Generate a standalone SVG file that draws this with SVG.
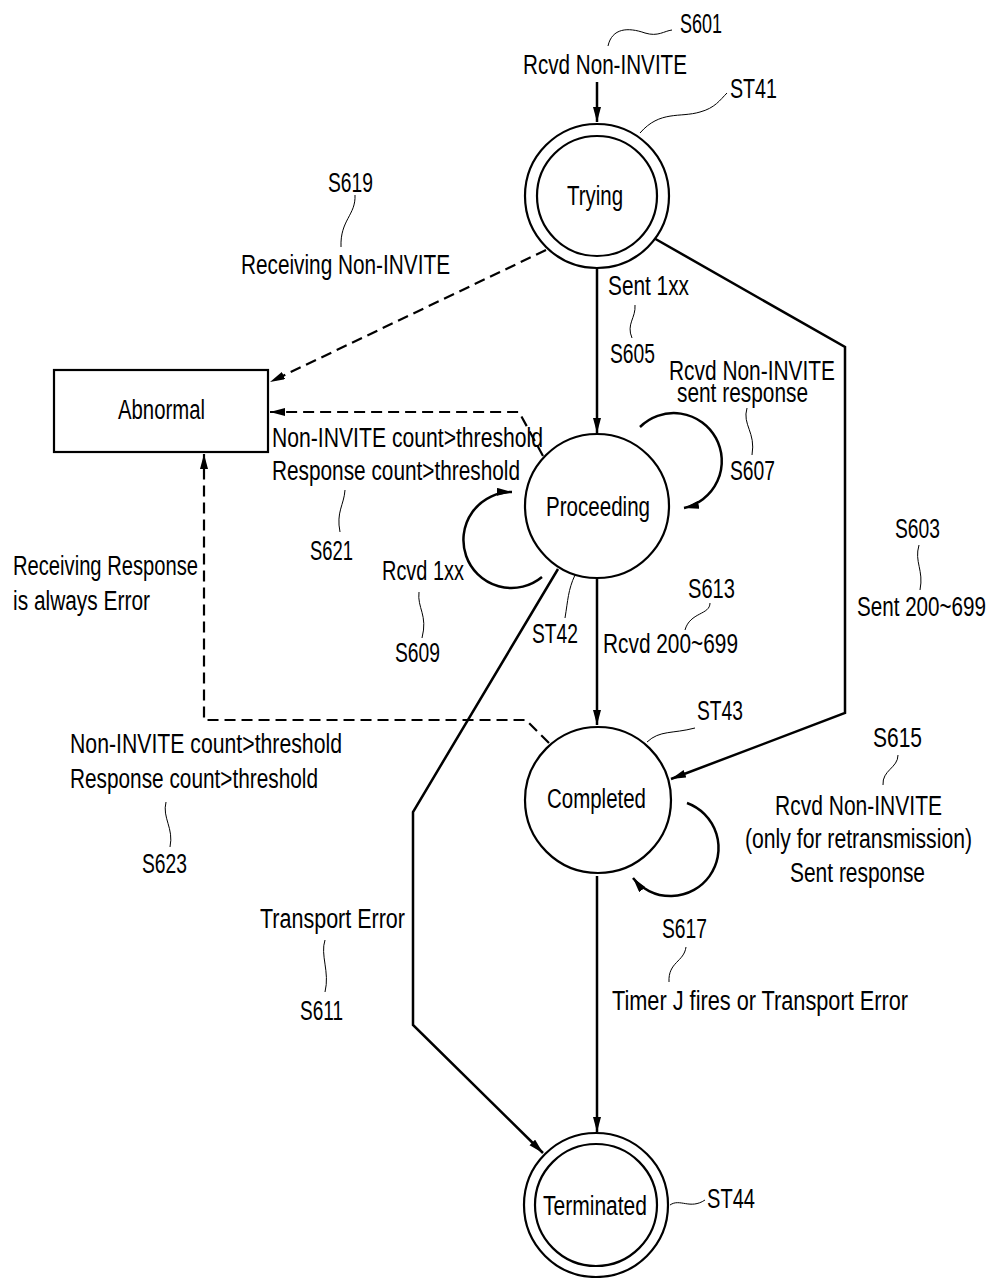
<svg xmlns="http://www.w3.org/2000/svg" width="992" height="1278" viewBox="0 0 992 1278">
<style>
text{font-family:"Liberation Sans",Arial,sans-serif;font-size:27px;fill:#000}
.st{fill:#fff;stroke:#000;stroke-width:2.2}
.e{fill:none;stroke:#000;stroke-width:2.5}
.d{fill:none;stroke:#000;stroke-width:2.2;stroke-dasharray:11 6}
.l{fill:none;stroke:#000;stroke-width:1}
</style>
<defs>
<marker id="ah" markerUnits="userSpaceOnUse" markerWidth="16" markerHeight="10" refX="15" refY="4" orient="auto">
<path d="M0,0 L15,4 L0,8 Z" fill="#000"/>
</marker>
</defs>
<rect width="992" height="1278" fill="#fff"/>
<g id="connectors">
<path class="e" d="M597,82 L597,122" marker-end="url(#ah)"/>
<path class="e" d="M597,268 L597,433" marker-end="url(#ah)"/>
<path class="e" d="M652,237 L845,347 L845,713 L671,779" marker-end="url(#ah)"/>
<path class="d" d="M546,250 L270,382" marker-end="url(#ah)"/>
<path class="d" d="M543,456 L519,412 L270,412" marker-end="url(#ah)"/>
<path class="d" d="M549,743 L526,720 L204,720 L204,454" marker-end="url(#ah)"/>
<path class="e" d="M597,578 L597,725" marker-end="url(#ah)"/>
<path class="e" d="M597,876 L597,1132" marker-end="url(#ah)"/>
<path class="e" d="M558,569 L413,812 L413,1025 L543,1153" marker-end="url(#ah)"/>
<path class="e" d="M640,427 A48,48 0 1,1 684,508" marker-end="url(#ah)"/>
<path class="e" d="M542,577 A48,48 0 1,1 512,492" marker-end="url(#ah)"/>
<path class="e" d="M687,803 A48,48 0 1,1 633,878" marker-end="url(#ah)"/>
</g>
<g id="leaders">
<path class="l" d="M608,46 C612,28 628,27 645,33 C658,37 664,31 672,30"/>
<path class="l" d="M640,133 C660,110 680,118 700,112 C715,108 720,100 727,93"/>
<path class="l" d="M355,195 C356,215 340,220 341,247"/>
<path class="l" d="M635,305 C636,318 626,324 632,338"/>
<path class="l" d="M747,408 C742,425 756,432 752,455"/>
<path class="l" d="M345,490 C344,505 336,512 340,532"/>
<path class="l" d="M419,592 C417,608 428,615 422,638"/>
<path class="l" d="M575,575 C568,590 568,600 565,618"/>
<path class="l" d="M710,603 C710,615 690,612 685,630"/>
<path class="l" d="M919,545 C914,562 924,570 920,590"/>
<path class="l" d="M647,742 C660,730 672,734 695,728"/>
<path class="l" d="M898,755 C898,768 882,770 883,785"/>
<path class="l" d="M166,802 C162,818 174,828 170,847"/>
<path class="l" d="M325,940 C320,955 330,972 325,992"/>
<path class="l" d="M686,947 C684,962 668,962 669,982"/>
<path class="l" d="M670,1205 C680,1198 690,1210 705,1200"/>
</g>
<g id="trying">
<circle class="st" cx="597" cy="196" r="72"/>
<circle class="st" cx="597" cy="196" r="60"/>
<text x="567" y="205" textLength="56" lengthAdjust="spacingAndGlyphs">Trying</text>
</g>
<g id="abnormal">
<rect class="st" x="54" y="370" width="214" height="82"/>
<text x="118" y="419" textLength="87" lengthAdjust="spacingAndGlyphs">Abnormal</text>
</g>
<g id="proceeding">
<circle class="st" cx="597" cy="506" r="72"/>
<text x="546" y="516" textLength="104" lengthAdjust="spacingAndGlyphs">Proceeding</text>
</g>
<g id="completed">
<circle class="st" cx="598" cy="800" r="73"/>
<text x="547" y="808" textLength="99" lengthAdjust="spacingAndGlyphs">Completed</text>
</g>
<g id="terminated">
<circle class="st" cx="596" cy="1205" r="72"/>
<circle class="st" cx="596" cy="1205" r="61"/>
<text x="543" y="1215" textLength="104" lengthAdjust="spacingAndGlyphs">Terminated</text>
</g>
<g id="labels">
<text x="680" y="33" textLength="42" lengthAdjust="spacingAndGlyphs">S601</text>
<text x="523" y="74" textLength="164" lengthAdjust="spacingAndGlyphs">Rcvd Non-INVITE</text>
<text x="730" y="98" textLength="47" lengthAdjust="spacingAndGlyphs">ST41</text>
<text x="328" y="192" textLength="45" lengthAdjust="spacingAndGlyphs">S619</text>
<text x="241" y="274" textLength="209" lengthAdjust="spacingAndGlyphs">Receiving Non-INVITE</text>
<text x="272" y="447" textLength="271" lengthAdjust="spacingAndGlyphs">Non-INVITE count&gt;threshold</text>
<text x="272" y="480" textLength="248" lengthAdjust="spacingAndGlyphs">Response count&gt;threshold</text>
<text x="608" y="295" textLength="81" lengthAdjust="spacingAndGlyphs">Sent 1xx</text>
<text x="610" y="363" textLength="45" lengthAdjust="spacingAndGlyphs">S605</text>
<text x="669" y="380" textLength="166" lengthAdjust="spacingAndGlyphs">Rcvd Non-INVITE</text>
<text x="677" y="402" textLength="131" lengthAdjust="spacingAndGlyphs">sent response</text>
<text x="730" y="480" textLength="45" lengthAdjust="spacingAndGlyphs">S607</text>
<text x="310" y="560" textLength="43" lengthAdjust="spacingAndGlyphs">S621</text>
<text x="382" y="580" textLength="82" lengthAdjust="spacingAndGlyphs">Rcvd 1xx</text>
<text x="395" y="662" textLength="45" lengthAdjust="spacingAndGlyphs">S609</text>
<text x="13" y="575" textLength="185" lengthAdjust="spacingAndGlyphs">Receiving Response</text>
<text x="13" y="610" textLength="137" lengthAdjust="spacingAndGlyphs">is always Error</text>
<text x="532" y="643" textLength="46" lengthAdjust="spacingAndGlyphs">ST42</text>
<text x="688" y="598" textLength="47" lengthAdjust="spacingAndGlyphs">S613</text>
<text x="603" y="653" textLength="135" lengthAdjust="spacingAndGlyphs">Rcvd 200~699</text>
<text x="895" y="538" textLength="45" lengthAdjust="spacingAndGlyphs">S603</text>
<text x="857" y="616" textLength="129" lengthAdjust="spacingAndGlyphs">Sent 200~699</text>
<text x="697" y="720" textLength="46" lengthAdjust="spacingAndGlyphs">ST43</text>
<text x="873" y="747" textLength="49" lengthAdjust="spacingAndGlyphs">S615</text>
<text x="775" y="815" textLength="167" lengthAdjust="spacingAndGlyphs">Rcvd Non-INVITE</text>
<text x="745" y="848" textLength="227" lengthAdjust="spacingAndGlyphs">(only for retransmission)</text>
<text x="790" y="882" textLength="135" lengthAdjust="spacingAndGlyphs">Sent response</text>
<text x="70" y="753" textLength="272" lengthAdjust="spacingAndGlyphs">Non-INVITE count&gt;threshold</text>
<text x="70" y="788" textLength="248" lengthAdjust="spacingAndGlyphs">Response count&gt;threshold</text>
<text x="142" y="873" textLength="45" lengthAdjust="spacingAndGlyphs">S623</text>
<text x="260" y="928" textLength="145" lengthAdjust="spacingAndGlyphs">Transport Error</text>
<text x="300" y="1020" textLength="43" lengthAdjust="spacingAndGlyphs">S611</text>
<text x="662" y="938" textLength="45" lengthAdjust="spacingAndGlyphs">S617</text>
<text x="612" y="1010" textLength="296" lengthAdjust="spacingAndGlyphs">Timer J fires or Transport Error</text>
<text x="707" y="1208" textLength="48" lengthAdjust="spacingAndGlyphs">ST44</text>
</g>
</svg>
